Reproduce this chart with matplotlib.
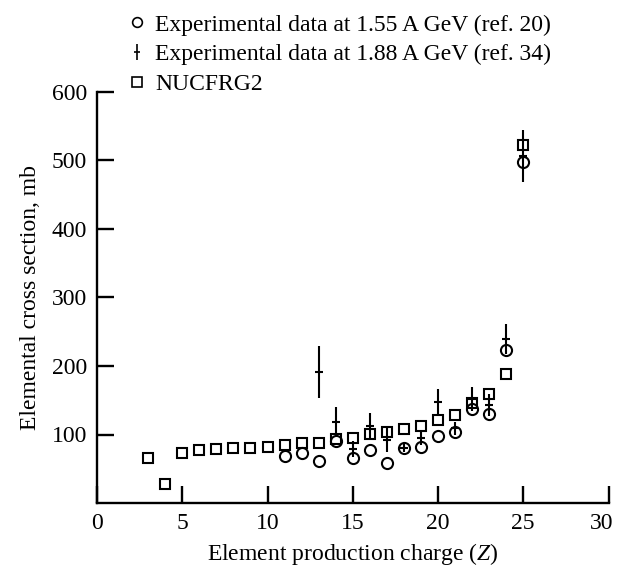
import matplotlib
matplotlib.use("Agg")
import matplotlib.pyplot as plt
from matplotlib.lines import Line2D
from matplotlib.legend_handler import HandlerTuple
from matplotlib.transforms import ScaledTranslation

plt.rcParams["font.family"] = ["Liberation Serif", "DejaVu Serif"]
plt.rcParams["mathtext.fontset"] = "custom"
plt.rcParams["mathtext.it"] = "Liberation Serif:italic"
plt.rcParams["mathtext.rm"] = "Liberation Serif"

# NUCFRG2 model cross sections (Z = 3 .. 25)
z_model = list(range(3, 26))
sigma_model = [66, 28, 73, 77, 79, 80, 81, 82, 85, 87, 88, 93, 95,
               101, 104, 108, 112, 121, 129, 146, 159, 188, 523]

# Experimental data at 1.55 A GeV (ref. 20)
z_exp155 = list(range(11, 26))
sigma_exp155 = [69, 73, 62, 90, 66, 78, 59, 80, 82, 98, 104, 137, 130, 223, 498]

# Experimental data at 1.88 A GeV (ref. 34)
z_exp188 = list(range(13, 26))
sigma_exp188 = [191, 118, 79, 112, 92, 81, 95, 147, 109, 152, 143, 240, 507]
err_exp188 = [38, 22, 12, 20, 17, 6, 11, 20, 9, 18, 16, 22, 38]

x_ticks = [0, 5, 10, 15, 20, 25, 30]
y_ticks = [100, 200, 300, 400, 500, 600]

W, H = 618, 570
x0, x1, y_top, y_bot = 97, 608.5, 92, 503

fig = plt.figure(figsize=(W / 100, H / 100), dpi=100)
ax = fig.add_axes([x0 / W, 1 - y_bot / H, (x1 - x0) / W, (y_bot - y_top) / H])

lw = 1.5
ax.errorbar(z_exp188, sigma_exp188, yerr=err_exp188, fmt="_", color="black",
            markersize=6, markeredgewidth=lw, elinewidth=lw, capsize=0, zorder=3)
ax.plot(z_model, sigma_model, linestyle="none", marker="s", markersize=7.5,
        markerfacecolor="white", markeredgecolor="black", markeredgewidth=lw, zorder=2)
ax.plot(z_exp155, sigma_exp155, linestyle="none", marker="o", markersize=8,
        markerfacecolor="none", markeredgecolor="black", markeredgewidth=lw, zorder=4)

ax.set_xlim(0, 30)
ax.set_ylim(0, 600)
ax.set_xticks(x_ticks)
ax.set_yticks(y_ticks)
ax.set_xticklabels([str(v) for v in x_ticks])
ax.set_yticklabels([str(v) for v in y_ticks])

for side in ("top", "right"):
    ax.spines[side].set_visible(False)
for side in ("left", "bottom"):
    ax.spines[side].set_linewidth(1.7)

ax.tick_params(direction="in", length=12, width=1.7, labelsize=17, pad=7)

# keep the last x tick label inside the figure
last = ax.get_xticklabels()[-1]
last.set_transform(last.get_transform() + ScaledTranslation(-5 / 72, 0, fig.dpi_scale_trans))

ax.set_xlabel("Element production charge ($Z$)", fontsize=17, labelpad=5)
ax.set_ylabel("Elemental cross section, mb", fontsize=17, labelpad=8)

circle_h = Line2D([], [], linestyle="none", marker="o", markersize=7,
                  markerfacecolor="none", markeredgecolor="black", markeredgewidth=1.2)
cross_h = (Line2D([], [], linestyle="none", marker="|", markersize=12,
                  color="black", markeredgewidth=1.2),
           Line2D([], [], linestyle="none", marker="_", markersize=5,
                  color="black", markeredgewidth=1.2))
square_h = Line2D([], [], linestyle="none", marker="s", markersize=6.5,
                  markerfacecolor="none", markeredgecolor="black", markeredgewidth=1.2)

labels = [
    "Experimental data at 1.55 A GeV (ref. 20)",
    "Experimental data at 1.88 A GeV (ref. 34)",
    "NUCFRG2",
]
fig.legend([circle_h, cross_h, square_h], labels, loc="upper left",
           bbox_to_anchor=(116 / W, 1.0), frameon=False, fontsize=17,
           handlelength=0.6, handletextpad=0.45, labelspacing=0.35,
           borderaxespad=0.2, handler_map={tuple: HandlerTuple(ndivide=1, pad=0)})

fig.savefig("out.png", dpi=100)
